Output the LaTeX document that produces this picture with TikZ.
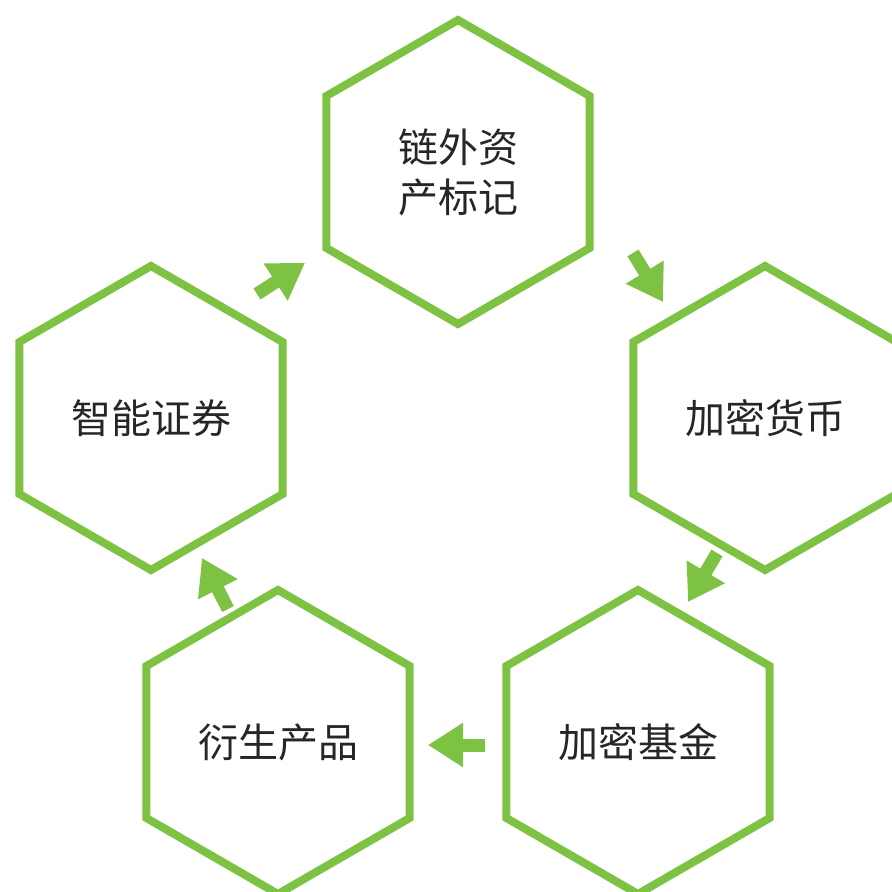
\documentclass[tikz,border=0pt]{standalone}
\usepackage{fontspec}
\newfontfamily\cjk{Noto Sans CJK SC}
\usetikzlibrary{arrows.meta}
\definecolor{hexgreen}{RGB}{125,194,66}
\begin{document}
\begin{tikzpicture}[x=1pt,y=-1pt,
  hexline/.style={draw=hexgreen,line width=8pt,line join=miter},
  hexlabel/.style={font=\cjk\fontsize{40}{50}\selectfont,text=black!85,align=center,inner sep=0pt},
  flow/.style={draw=hexgreen,line width=13pt,-{Triangle[length=35pt,width=42pt]}}]
\useasboundingbox (0,0) rectangle (892,892);
\node[hexlabel] (T)  at (458,172) {链外资\\产标记};
\node[hexlabel] (R)  at (765,418) {加密货币};
\node[hexlabel] (BR) at (638,742) {加密基金};
\node[hexlabel] (BL) at (278,742) {衍生产品};
\node[hexlabel] (L)  at (151,418) {智能证券};
\foreach \n in {T,R,BR,BL,L}{
  \draw[hexline] ([shift={(90:152)}]\n.center) -- ([shift={(30:152)}]\n.center)
    -- ([shift={(-30:152)}]\n.center) -- ([shift={(-90:152)}]\n.center)
    -- ([shift={(-150:152)}]\n.center) -- ([shift={(150:152)}]\n.center) -- cycle;
}
\coordinate (a1s) at (257,294); \coordinate (a1e) at (305,263);
\coordinate (a2s) at (633,253); \coordinate (a2e) at (663,302);
\coordinate (a3s) at (717,553); \coordinate (a3e) at (688,602);
\coordinate (a4s) at (485,745); \coordinate (a4e) at (428,745);
\coordinate (a5s) at (228,609); \coordinate (a5e) at (202,558);
\draw[flow] (a1s) -- (a1e);
\draw[flow] (a2s) -- (a2e);
\draw[flow] (a3s) -- (a3e);
\draw[flow] (a4s) -- (a4e);
\draw[flow] (a5s) -- (a5e);
\end{tikzpicture}
\end{document}
